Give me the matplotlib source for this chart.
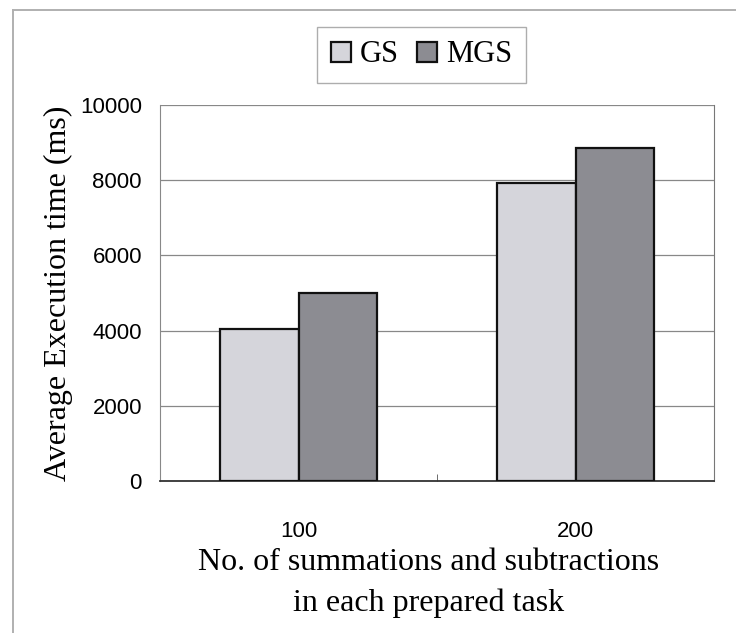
import numpy as np
import matplotlib.pyplot as plt
from matplotlib.lines import Line2D

categories = ['100', '200']
gs_values = [4050, 7920]
mgs_values = [5000, 8850]
yticks = [0, 2000, 4000, 6000, 8000, 10000]

W, H = 736, 633
fig = plt.figure(figsize=(W / 100, H / 100), dpi=100)

# scanned page frame: only top and left edges are inside the crop
fig.add_artist(Line2D([13 / W, 1.0], [1 - 10 / H, 1 - 10 / H], transform=fig.transFigure,
                      color='#b0b0b0', linewidth=1.4))
fig.add_artist(Line2D([13 / W, 13 / W], [0.0, 1 - 10 / H], transform=fig.transFigure,
                      color='#b0b0b0', linewidth=1.4))

ax = fig.add_axes([160 / W, 1 - 481 / H, 554 / W, 376 / H])

x = np.arange(len(categories))
w = 0.285
ax.bar(x - w / 2, gs_values, w, color='#d5d5db', edgecolor='#111111', linewidth=1.6,
       label='GS', zorder=3)
ax.bar(x + w / 2, mgs_values, w, color='#8c8c92', edgecolor='#111111', linewidth=1.6,
       label='MGS', zorder=3)

ax.set_xlim(-0.5, 1.5)
ax.set_ylim(0, 10000)
ax.set_yticks(yticks)
ax.set_yticklabels([str(v) for v in yticks], family='Liberation Sans', fontsize=16)
ax.set_xticks(x)
ax.set_xticklabels(categories, family='Liberation Sans', fontsize=16)
ax.set_xticks([0.5], minor=True)
ax.tick_params(axis='x', which='major', length=0, pad=29)
ax.tick_params(axis='x', which='minor', length=5, direction='in', color='#555555')
ax.tick_params(axis='y', length=0, pad=13)

ax.grid(axis='y', color='#888888', linewidth=0.9, zorder=0)
ax.spines['top'].set_visible(False)
ax.spines['left'].set_color('#888888')
ax.spines['right'].set_color('#777777')
ax.spines['bottom'].set_color('#333333')
ax.spines['bottom'].set_linewidth(1.3)

ax.set_ylabel('Average Execution time (ms)', family='Liberation Serif', fontsize=23,
              va='center')
ax.yaxis.set_label_coords(-0.184, 0.5)
ax.set_xlabel('No. of summations and subtractions\nin each prepared task',
              family='Liberation Serif', fontsize=23, linespacing=1.55, va='top')
ax.xaxis.set_label_coords(0.484, -0.177)

leg = fig.legend(loc='center', bbox_to_anchor=(421.5 / W, 1 - 55 / H), ncol=2,
                 prop={'family': 'Liberation Serif', 'size': 22},
                 handlelength=0.65, handleheight=0.65, handletextpad=0.3,
                 columnspacing=0.6, fancybox=False, frameon=True,
                 borderpad=0.45, edgecolor='#999999')
leg.get_frame().set_linewidth(1.0)

fig.savefig('out.png', dpi=100)
